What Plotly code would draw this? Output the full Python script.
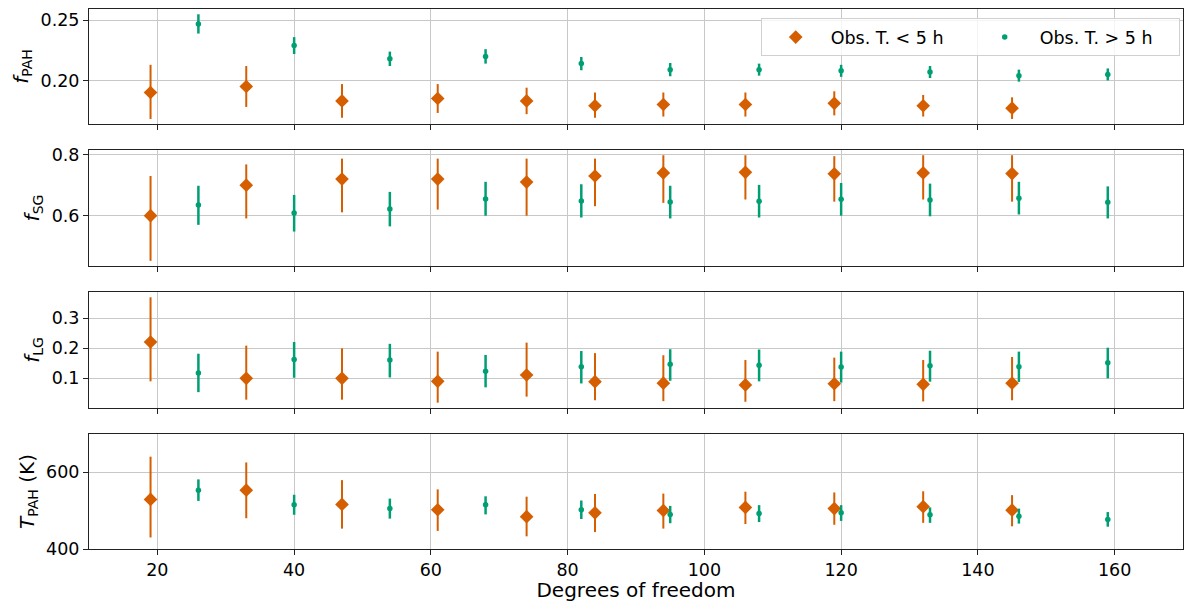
import plotly.graph_objects as go
from plotly.subplots import make_subplots

# Degrees of freedom for the two observation-time groups
dof_short = [19, 33, 47, 61, 74, 84, 94, 106, 119, 132, 145]
dof_long = [26, 40, 54, 68, 82, 95, 108, 120, 133, 146, 159]

# f_PAH : value, upper bound, lower bound
fpah_short = [0.190, 0.195, 0.183, 0.185, 0.183, 0.179, 0.180, 0.180, 0.181, 0.179, 0.177]
fpah_short_hi = [0.213, 0.212, 0.197, 0.197, 0.194, 0.190, 0.190, 0.190, 0.191, 0.188, 0.186]
fpah_short_lo = [0.168, 0.178, 0.169, 0.173, 0.172, 0.169, 0.170, 0.170, 0.171, 0.170, 0.168]
fpah_long = [0.247, 0.229, 0.218, 0.220, 0.214, 0.209, 0.209, 0.208, 0.207, 0.204, 0.205]
fpah_long_hi = [0.255, 0.236, 0.224, 0.226, 0.2195, 0.2145, 0.214, 0.213, 0.212, 0.209, 0.210]
fpah_long_lo = [0.239, 0.222, 0.212, 0.214, 0.2085, 0.2035, 0.204, 0.203, 0.202, 0.199, 0.200]

# f_SG
fsg_short = [0.600, 0.700, 0.720, 0.720, 0.710, 0.730, 0.740, 0.742, 0.737, 0.740, 0.738]
fsg_short_hi = [0.730, 0.768, 0.787, 0.787, 0.787, 0.787, 0.798, 0.798, 0.795, 0.798, 0.798]
fsg_short_lo = [0.452, 0.591, 0.611, 0.620, 0.600, 0.631, 0.642, 0.653, 0.646, 0.653, 0.646]
fsg_long = [0.635, 0.609, 0.622, 0.655, 0.648, 0.645, 0.647, 0.654, 0.651, 0.657, 0.644]
fsg_long_hi = [0.698, 0.668, 0.678, 0.711, 0.703, 0.698, 0.701, 0.707, 0.705, 0.711, 0.696]
fsg_long_lo = [0.570, 0.548, 0.565, 0.600, 0.594, 0.591, 0.594, 0.600, 0.598, 0.604, 0.591]

# f_LG
flg_short = [0.221, 0.100, 0.100, 0.090, 0.111, 0.089, 0.084, 0.078, 0.082, 0.080, 0.084]
flg_short_hi = [0.370, 0.209, 0.200, 0.189, 0.219, 0.184, 0.177, 0.161, 0.169, 0.161, 0.171]
flg_short_lo = [0.090, 0.029, 0.029, 0.019, 0.039, 0.027, 0.024, 0.022, 0.024, 0.023, 0.027]
flg_long = [0.118, 0.163, 0.161, 0.124, 0.139, 0.147, 0.144, 0.138, 0.142, 0.139, 0.152]
flg_long_hi = [0.182, 0.221, 0.215, 0.178, 0.191, 0.197, 0.196, 0.189, 0.192, 0.189, 0.202]
flg_long_lo = [0.054, 0.102, 0.103, 0.070, 0.083, 0.092, 0.090, 0.086, 0.089, 0.088, 0.100]

# T_PAH (K)
tpah_short = [529, 553, 516, 502, 484, 494, 500, 508, 505, 510, 501]
tpah_short_hi = [640, 625, 579, 555, 536, 543, 544, 549, 547, 550, 540]
tpah_short_lo = [430, 480, 453, 447, 433, 444, 453, 465, 463, 468, 459]
tpah_long = [553, 515, 505, 515, 502, 490, 492, 494, 489, 485, 477]
tpah_long_hi = [581, 541, 531, 537, 526, 512, 514, 514, 508, 505, 496]
tpah_long_lo = [525, 489, 479, 490, 478, 467, 470, 473, 468, 466, 458]

ORANGE = "#d55e00"
GREEN = "#009e73"
FONT = "DejaVu Sans"
TICK_SIZE = 17.5
LABEL_SIZE = 20

panels = [
    (fpah_short, fpah_short_hi, fpah_short_lo, fpah_long, fpah_long_hi, fpah_long_lo),
    (fsg_short, fsg_short_hi, fsg_short_lo, fsg_long, fsg_long_hi, fsg_long_lo),
    (flg_short, flg_short_hi, flg_short_lo, flg_long, flg_long_hi, flg_long_lo),
    (tpah_short, tpah_short_hi, tpah_short_lo, tpah_long, tpah_long_hi, tpah_long_lo),
]
y_titles = ["<i>f</i><sub>PAH</sub>", "<i>f</i><sub>SG</sub>",
            "<i>f</i><sub>LG</sub>", "<i>T</i><sub>PAH</sub> (K)"]
y_ranges = [[0.1638, 0.2594], [0.435, 0.8154], [0.001, 0.3878], [400, 699]]
y_ticks = [[0.20, 0.25], [0.6, 0.8], [0.1, 0.2, 0.3], [400, 600]]
y_fmt = [".2f", ".1f", ".1f", "d"]
domains = [[0.787, 1.0], [0.524, 0.739], [0.261, 0.476], [0.0, 0.213]]


def err(c, hi, lo):
    return [h - v for v, h in zip(c, hi)], [v - l for v, l in zip(c, lo)]


fig = make_subplots(rows=4, cols=1, shared_xaxes=True, vertical_spacing=0.05)

for i, (s, s_hi, s_lo, l, l_hi, l_lo) in enumerate(panels):
    row = i + 1
    sp, sm = err(s, s_hi, s_lo)
    lp, lm = err(l, l_hi, l_lo)
    fig.add_trace(go.Scatter(
        x=dof_short, y=s, mode="markers", name="Obs. T. &lt; 5 h",
        legendgroup="short", showlegend=(row == 1),
        marker=dict(symbol="diamond", size=10.5, color=ORANGE),
        error_y=dict(type="data", symmetric=False, array=sp, arrayminus=sm,
                     color=ORANGE, thickness=2, width=0),
    ), row=row, col=1)
    fig.add_trace(go.Scatter(
        x=dof_long, y=l, mode="markers", name="Obs. T. &gt; 5 h",
        legendgroup="long", showlegend=(row == 1),
        marker=dict(symbol="circle", size=5.5, color=GREEN),
        error_y=dict(type="data", symmetric=False, array=lp, arrayminus=lm,
                     color=GREEN, thickness=2.5, width=0),
    ), row=row, col=1)

axis_common = dict(
    showline=True, linecolor="#222222", linewidth=1, mirror=True,
    ticks="outside", ticklen=5, tickcolor="#222222", tickwidth=1,
    showgrid=True, gridcolor="#c8c8c8", gridwidth=1, zeroline=False,
    tickfont=dict(family=FONT, size=TICK_SIZE, color="black"),
)

for i in range(4):
    row = i + 1
    fig.update_yaxes(
        range=y_ranges[i], tickvals=y_ticks[i], tickformat=y_fmt[i],
        domain=domains[i],
        title=dict(text=y_titles[i], font=dict(family=FONT, size=LABEL_SIZE, color="black"),
                   standoff=6),
        row=row, col=1, **axis_common,
    )
    fig.update_xaxes(
        range=[10, 170], tickvals=[20, 40, 60, 80, 100, 120, 140, 160],
        showticklabels=(row == 4), row=row, col=1, **axis_common,
    )

fig.update_xaxes(title=dict(text="Degrees of freedom",
                            font=dict(family=FONT, size=LABEL_SIZE, color="black"),
                            standoff=5), row=4, col=1)

fig.update_layout(
    width=1185, height=602,
    margin=dict(l=89, r=2, t=9, b=53),
    paper_bgcolor="white", plot_bgcolor="white",
    font=dict(family=FONT, size=TICK_SIZE, color="black"),
    legend=dict(
        orientation="h", x=0.997, xanchor="right", y=0.983, yanchor="top",
        bgcolor="rgba(255,255,255,0.8)", bordercolor="#d0d0d0", borderwidth=1,
        font=dict(family=FONT, size=TICK_SIZE, color="black"),
        itemwidth=60, entrywidthmode="pixels", entrywidth=134,
    ),
)

fig.write_html("out.html")
